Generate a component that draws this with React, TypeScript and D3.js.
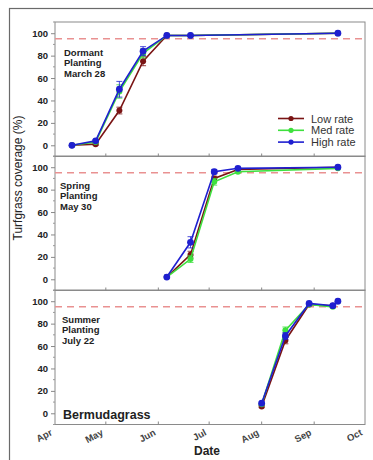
import React, { useEffect, useRef } from 'react';
import * as d3 from 'd3';

// month tick labels
const months = ['Apr', 'May', 'Jun', 'Jul', 'Aug', 'Sep', 'Oct'];
const monthDates = ['2000-04-01', '2000-05-01', '2000-06-01', '2000-07-01', '2000-08-01', '2000-09-01', '2000-10-01'];

const seriesNames = ['Low rate', 'Med rate', 'High rate'];
const seriesColors = ['#7a1414', '#3ee03e', '#1f1fd0'];

// Dormant planting (March 28)
const dormantDates = ['2000-04-11', '2000-04-25', '2000-05-09', '2000-05-23', '2000-06-06', '2000-06-20', '2000-09-15'];
const dormantLow = [0, 1, 31, 75, 98, 98, 100];
const dormantMed = [0, 3, 48, 82, 98, 98, 100];
const dormantHigh = [0, 4, 50, 84, 98, 98, 100];
const dormantLowErr = [0, 1, 3, 4, 0, 0, 0];
const dormantMedErr = [0, 1, 6, 4, 0, 0, 0];
const dormantHighErr = [0, 1, 7, 4, 0, 0, 0];

// Spring planting (May 30)
const springDates = ['2000-06-06', '2000-06-20', '2000-07-04', '2000-07-18', '2000-09-15'];
const springLow = [2, 22, 90, 98, 100];
const springMed = [2, 18, 87, 96, 99];
const springHigh = [2, 33, 96, 99, 100];
const springLowErr = [0, 3, 2, 1, 0];
const springMedErr = [0, 3, 3, 1, 0];
const springHighErr = [0, 5, 2, 1, 0];

// Summer planting (July 22)
const summerDates = ['2000-08-01', '2000-08-15', '2000-08-29', '2000-09-12', '2000-09-15'];
const summerLow = [6, 65, 97, 96, 100];
const summerMed = [8, 74, 97, 95, 100];
const summerHigh = [9, 69, 98, 96, 100];
const summerLowErr = [1, 3, 1, 1, 0];
const summerMedErr = [1, 3, 1, 1, 0];
const summerHighErr = [1, 3, 1, 1, 0];

const yTicks = [0, 20, 40, 60, 80, 100];
const yMinorTicks = [-10, 10, 30, 50, 70, 90, 110];
const targetLine = 95;

const panelLabels = [
  ['Dormant', 'Planting', 'March 28'],
  ['Spring', 'Planting', 'May 30'],
  ['Summer', 'Planting', 'July 22'],
];

const App = () => {
  const svgRef = useRef(null);

  useEffect(() => {
    const svg = d3.select(svgRef.current);
    svg.selectAll('*').remove();

    const width = 373;
    const height = 460;
    const left = 55;
    const right = 365;
    const panelTops = [22, 156, 290];
    const panelHeight = 134.5;
    const parse = d3.timeParse('%Y-%m-%d');
    const font = "'Liberation Sans', Arial, sans-serif";

    const x = d3
      .scaleTime()
      .domain([parse(monthDates[0]), parse(monthDates[6])])
      .range([left, right]);

    // outer frame
    svg
      .append('rect')
      .attr('x', 9.5)
      .attr('y', 8.5)
      .attr('width', width)
      .attr('height', height)
      .attr('fill', 'none')
      .attr('stroke', '#6a6a6a')
      .attr('stroke-width', 1.2);

    const panels = [
      {
        dates: dormantDates,
        values: [dormantLow, dormantMed, dormantHigh],
        errs: [dormantLowErr, dormantMedErr, dormantHighErr],
      },
      {
        dates: springDates,
        values: [springLow, springMed, springHigh],
        errs: [springLowErr, springMedErr, springHighErr],
      },
      {
        dates: summerDates,
        values: [summerLow, summerMed, summerHigh],
        errs: [summerLowErr, summerMedErr, summerHighErr],
      },
    ];

    panels.forEach((panel, pi) => {
      const top = panelTops[pi];
      const bottom = top + panelHeight;
      const y = d3.scaleLinear().domain([-10, 110]).range([bottom, top]);
      const g = svg.append('g');

      // panel box
      g.append('rect')
        .attr('x', left)
        .attr('y', top)
        .attr('width', right - left)
        .attr('height', panelHeight)
        .attr('fill', 'none')
        .attr('stroke', '#8a8a8a')
        .attr('stroke-width', 1);

      // y axis ticks
      const yAxis = d3
        .axisLeft(y)
        .tickValues(yTicks)
        .tickSize(4)
        .tickPadding(3)
        .tickFormat(d3.format('d'));
      const ya = g.append('g').attr('transform', `translate(${left},0)`).call(yAxis);
      ya.select('.domain').remove();
      ya.selectAll('line').attr('stroke', '#888');
      ya.selectAll('text')
        .attr('font-family', font)
        .attr('font-size', 9.5)
        .attr('font-weight', 'bold')
        .attr('fill', '#222');

      g.selectAll('.minor')
        .data(yMinorTicks)
        .enter()
        .append('line')
        .attr('x1', left - 2)
        .attr('x2', left)
        .attr('y1', d => y(d))
        .attr('y2', d => y(d))
        .attr('stroke', '#999');

      // x ticks inside, at the bottom of each panel
      g.selectAll('.xtick')
        .data(monthDates.slice(1, 6))
        .enter()
        .append('line')
        .attr('x1', d => x(parse(d)))
        .attr('x2', d => x(parse(d)))
        .attr('y1', bottom)
        .attr('y2', bottom - 3)
        .attr('stroke', '#888');

      // 95% reference line
      g.append('line')
        .attr('x1', left)
        .attr('x2', right)
        .attr('y1', y(targetLine))
        .attr('y2', y(targetLine))
        .attr('stroke', '#e99191')
        .attr('stroke-width', 1.5)
        .attr('stroke-dasharray', '7,5');

      // panel annotation
      const labelX = pi === 0 ? 64 : pi === 1 ? 60 : 62;
      const labelY = pi === 0 ? top + 34 : top + 33;
      panelLabels[pi].forEach((t, i) => {
        g.append('text')
          .attr('x', labelX)
          .attr('y', labelY + i * 10.3)
          .attr('font-family', font)
          .attr('font-size', 9.5)
          .attr('font-weight', 'bold')
          .attr('fill', '#222')
          .text(t);
      });

      // series: lines, error bars, markers (low, med, high drawn in order)
      panel.values.forEach((vals, si) => {
        const pts = panel.dates.map((d, i) => ({ d: parse(d), v: vals[i], e: panel.errs[si][i] }));
        const line = d3
          .line()
          .x(p => x(p.d))
          .y(p => y(p.v));
        g.append('path')
          .datum(pts)
          .attr('d', line)
          .attr('fill', 'none')
          .attr('stroke', seriesColors[si])
          .attr('stroke-width', 1.6);

        const eb = g.selectAll(`.eb${si}`).data(pts.filter(p => p.e > 0)).enter().append('g');
        eb.append('line')
          .attr('x1', p => x(p.d))
          .attr('x2', p => x(p.d))
          .attr('y1', p => y(p.v - p.e))
          .attr('y2', p => y(p.v + p.e))
          .attr('stroke', seriesColors[si])
          .attr('stroke-width', 0.8);
        [-1, 1].forEach(s => {
          eb.append('line')
            .attr('x1', p => x(p.d) - 3)
            .attr('x2', p => x(p.d) + 3)
            .attr('y1', p => y(p.v + s * p.e))
            .attr('y2', p => y(p.v + s * p.e))
            .attr('stroke', seriesColors[si])
            .attr('stroke-width', 0.8);
        });

        g.selectAll(`.pt${si}`)
          .data(pts)
          .enter()
          .append('circle')
          .attr('cx', p => x(p.d))
          .attr('cy', p => y(p.v))
          .attr('r', si === 2 ? 3.4 : 3)
          .attr('fill', seriesColors[si]);
      });
    });

    // month labels under bottom panel
    const axisBottom = panelTops[2] + panelHeight;
    svg
      .selectAll('.month')
      .data(months)
      .enter()
      .append('text')
      .attr('transform', (d, i) => `translate(${x(parse(monthDates[i])) - 2},${axisBottom + 10}) rotate(-28)`)
      .attr('text-anchor', 'end')
      .attr('font-family', font)
      .attr('font-size', 9.5)
      .attr('font-weight', 'bold')
      .attr('fill', '#444')
      .text(d => d);

    svg
      .append('text')
      .attr('x', 207)
      .attr('y', 455)
      .attr('text-anchor', 'middle')
      .attr('font-family', font)
      .attr('font-size', 12)
      .attr('font-weight', 'bold')
      .attr('fill', '#222')
      .text('Date');

    svg
      .append('text')
      .attr('transform', 'translate(22,178) rotate(-90)')
      .attr('text-anchor', 'middle')
      .attr('font-family', font)
      .attr('font-size', 12)
      .attr('fill', '#222')
      .text('Turfgrass coverage (%)');

    svg
      .append('text')
      .attr('x', 63)
      .attr('y', 419)
      .attr('font-family', font)
      .attr('font-size', 12.5)
      .attr('font-weight', 'bold')
      .attr('fill', '#222')
      .text('Bermudagrass');

    // legend
    const legend = svg.append('g');
    seriesNames.forEach((name, i) => {
      const ly = 118.5 + i * 11.8;
      legend
        .append('line')
        .attr('x1', 278)
        .attr('x2', 304)
        .attr('y1', ly)
        .attr('y2', ly)
        .attr('stroke', seriesColors[i])
        .attr('stroke-width', 1.6);
      legend
        .append('circle')
        .attr('cx', 291)
        .attr('cy', ly)
        .attr('r', 2.6)
        .attr('fill', seriesColors[i]);
      legend
        .append('text')
        .attr('x', 311)
        .attr('y', ly + 4)
        .attr('font-family', font)
        .attr('font-size', 11)
        .attr('fill', '#333')
        .text(name);
    });
  }, []);

  return (
    <svg
      ref={svgRef}
      width={373}
      height={460}
      style={{ position: 'absolute', left: 0, top: 0, background: '#fff' }}
    ></svg>
  );
};

export default App;
